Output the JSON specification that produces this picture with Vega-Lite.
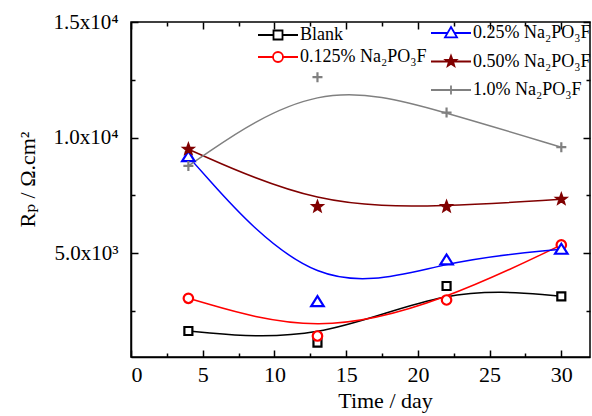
{
  "$schema": "https://vega.github.io/schema/vega-lite/v6.json",
  "width": 459,
  "height": 335,
  "autosize": {"type": "none"},
  "padding": {"left": 131, "top": 22, "right": 2, "bottom": 59},
  "background": "white",
  "config": {
    "view": {"stroke": "black", "strokeWidth": 1.5},
    "font": "Liberation Serif, DejaVu Serif, serif",
    "axis": {
      "grid": false,
      "domainColor": "black",
      "domainWidth": 1.5,
      "tickColor": "black",
      "tickWidth": 1.5,
      "labelColor": "black",
      "titleColor": "black",
      "labelFont": "Liberation Serif, DejaVu Serif, serif",
      "titleFont": "Liberation Serif, DejaVu Serif, serif",
      "titleFontWeight": "normal",
      "labelFontSize": 21,
      "titleFontSize": 22
    },
    "legend": {
      "labelFont": "Liberation Serif, DejaVu Serif, serif",
      "labelFontSize": 18,
      "labelColor": "black",
      "labelLimit": 300,
      "padding": 0,
      "offset": 0,
      "clipHeight": 18
    }
  },
  "data": {
    "values": [
      {"series": "Blank", "day": 4, "rp": 1625},
      {"series": "Blank", "day": 13, "rp": 1119},
      {"series": "Blank", "day": 22, "rp": 3574},
      {"series": "Blank", "day": 30, "rp": 3128},
      {"series": "0.125% Na₂PO₃F", "day": 4, "rp": 3041},
      {"series": "0.125% Na₂PO₃F", "day": 13, "rp": 1409},
      {"series": "0.125% Na₂PO₃F", "day": 22, "rp": 2968},
      {"series": "0.125% Na₂PO₃F", "day": 30, "rp": 5350},
      {"series": "0.25% Na₂PO₃F", "day": 4, "rp": 9173},
      {"series": "0.25% Na₂PO₃F", "day": 13, "rp": 2894},
      {"series": "0.25% Na₂PO₃F", "day": 22, "rp": 4700},
      {"series": "0.25% Na₂PO₃F", "day": 30, "rp": 5163},
      {"series": "0.50% Na₂PO₃F", "day": 4, "rp": 9493},
      {"series": "0.50% Na₂PO₃F", "day": 13, "rp": 7008},
      {"series": "0.50% Na₂PO₃F", "day": 22, "rp": 7008},
      {"series": "0.50% Na₂PO₃F", "day": 30, "rp": 7328},
      {"series": "1.0% Na₂PO₃F", "day": 4, "rp": 8770},
      {"series": "1.0% Na₂PO₃F", "day": 13, "rp": 12611},
      {"series": "1.0% Na₂PO₃F", "day": 22, "rp": 11078},
      {"series": "1.0% Na₂PO₃F", "day": 30, "rp": 9580}
    ]
  },
  "layer": [
    {
      "mark": {"type": "line", "interpolate": "basis", "strokeWidth": 1.5},
      "transform": [{"filter": {"field": "series", "oneOf": ["Blank", "0.125% Na₂PO₃F"]}}],
      "encoding": {
        "x": {
          "field": "day", "type": "quantitative",
          "scale": {"domain": [0, 32], "nice": false, "zero": false},
          "axis": {
            "orient": "bottom",
            "values": [0, 2.5, 5, 7.5, 10, 12.5, 15, 17.5, 20, 22.5, 25, 27.5, 30],
            "labelExpr": "datum.value % 5 == 0 ? datum.label : ''",
            "tickSize": {"condition": {"test": "datum.value % 5 == 0", "value": -7}, "value": -4},
            "labelPadding": 14,
            "labelFontSize": 22,
            "title": "Time / day",
            "titleX": 254,
            "titleY": 33
          }
        },
        "y": {
          "field": "rp", "type": "quantitative",
          "scale": {"domain": [500, 15000], "nice": false, "zero": false},
          "axis": {
            "orient": "left",
            "values": [2500, 5000, 7500, 10000, 12500, 15000],
            "labelExpr": "datum.value == 5000 ? '5.0x10³' : datum.value == 10000 ? '1.0x10⁴' : datum.value == 15000 ? '1.5x10⁴' : ''",
            "tickSize": {"condition": {"test": "datum.value % 5000 == 0", "value": -7}, "value": -4},
            "labelPadding": 20,
            "title": "Rₚ / Ω.cm²",
            "titleX": -104,
            "titleY": 157,
            "titleBaseline": "middle"
          }
        },
        "color": {
          "field": "series", "type": "nominal",
          "scale": {"domain": ["Blank", "0.125% Na₂PO₃F"], "range": ["#000000", "#ff0000"]},
          "legend": null
        }
      }
    },
    {
      "mark": {"type": "line", "interpolate": "basis", "strokeWidth": 1.5},
      "transform": [{"filter": {"field": "series", "oneOf": ["0.25% Na₂PO₃F", "0.50% Na₂PO₃F", "1.0% Na₂PO₃F"]}}],
      "encoding": {
        "x": {
          "field": "day", "type": "quantitative",
          "scale": {"domain": [0, 32], "nice": false, "zero": false},
          "axis": {
            "orient": "top",
            "values": [0, 2.5, 5, 7.5, 10, 12.5, 15, 17.5, 20, 22.5, 25, 27.5, 30],
            "labels": false,
            "domain": false,
            "tickSize": {"condition": {"test": "datum.value % 5 == 0", "value": -7}, "value": -4},
            "title": null
          }
        },
        "y": {
          "field": "rp", "type": "quantitative",
          "scale": {"domain": [500, 15000], "nice": false, "zero": false},
          "axis": {
            "orient": "right",
            "values": [2500, 5000, 7500, 10000, 12500, 15000],
            "labels": false,
            "domain": false,
            "tickSize": {"condition": {"test": "datum.value % 5000 == 0", "value": -7}, "value": -4},
            "title": null
          }
        },
        "color": {
          "field": "series", "type": "nominal",
          "scale": {"domain": ["0.25% Na₂PO₃F", "0.50% Na₂PO₃F", "1.0% Na₂PO₃F"], "range": ["#0000ff", "#800000", "#808080"]},
          "legend": null
        }
      }
    },
    {
      "mark": {"type": "point", "strokeWidth": 2.2, "opacity": 1, "size": 100},
      "transform": [{"filter": {"field": "series", "oneOf": ["Blank", "0.125% Na₂PO₃F"]}}],
      "encoding": {
        "x": {"field": "day", "type": "quantitative", "scale": {"domain": [0, 32], "nice": false, "zero": false}, "axis": null},
        "y": {"field": "rp", "type": "quantitative", "scale": {"domain": [500, 15000], "nice": false, "zero": false}, "axis": null},
        "shape": {
          "field": "series", "type": "nominal",
          "scale": {
            "domain": ["Blank", "0.125% Na₂PO₃F"],
            "range": [
              "M-0.8,-0.8H0.8V0.8H-0.8Z",
              "M0.95,0A0.95,0.95,0,1,1,-0.95,0A0.95,0.95,0,1,1,0.95,0Z"
            ]
          },
          "legend": null
        },
        "stroke": {
          "field": "series", "type": "nominal",
          "scale": {"domain": ["Blank", "0.125% Na₂PO₃F"], "range": ["#000000", "#ff0000"]},
          "legend": null
        },
        "fill": {
          "field": "series", "type": "nominal",
          "scale": {"domain": ["Blank", "0.125% Na₂PO₃F"], "range": ["#ffffff", "#ffffff"]},
          "legend": null
        }
      }
    },
    {
      "mark": {"type": "point", "strokeWidth": 2.2, "opacity": 1, "size": 100},
      "transform": [{"filter": {"field": "series", "oneOf": ["0.25% Na₂PO₃F", "0.50% Na₂PO₃F", "1.0% Na₂PO₃F"]}}],
      "encoding": {
        "x": {"field": "day", "type": "quantitative", "scale": {"domain": [0, 32], "nice": false, "zero": false}, "axis": null},
        "y": {"field": "rp", "type": "quantitative", "scale": {"domain": [500, 15000], "nice": false, "zero": false}, "axis": null},
        "shape": {
          "field": "series", "type": "nominal",
          "scale": {
            "domain": ["0.25% Na₂PO₃F", "0.50% Na₂PO₃F", "1.0% Na₂PO₃F"],
            "range": [
              "M0,-1.1L1.25,0.9H-1.25Z",
              "M0,-1L0.245,-0.338L0.951,-0.309L0.397,0.129L0.588,0.809L0,0.417L-0.588,0.809L-0.397,0.129L-0.951,-0.309L-0.245,-0.338Z",
              "M-1,0H1M0,-1V1"
            ]
          },
          "legend": null
        },
        "stroke": {
          "field": "series", "type": "nominal",
          "scale": {"domain": ["0.25% Na₂PO₃F", "0.50% Na₂PO₃F", "1.0% Na₂PO₃F"], "range": ["#0000ff", "#800000", "#808080"]},
          "legend": null
        },
        "fill": {
          "field": "series", "type": "nominal",
          "scale": {"domain": ["0.25% Na₂PO₃F", "0.50% Na₂PO₃F", "1.0% Na₂PO₃F"], "range": ["#ffffff", "#800000", "#ffffff"]},
          "legend": null
        }
      }
    },
    {
      "mark": {"type": "point", "strokeWidth": 1.8, "opacity": 0, "size": 1600},
      "transform": [{"filter": {"field": "series", "oneOf": ["Blank", "0.125% Na₂PO₃F"]}}],
      "encoding": {
        "x": {"field": "day", "type": "quantitative", "scale": {"domain": [0, 32], "nice": false, "zero": false}, "axis": null},
        "y": {"field": "rp", "type": "quantitative", "scale": {"domain": [500, 15000], "nice": false, "zero": false}, "axis": null},
        "shape": {
          "field": "series", "type": "nominal",
          "scale": {
            "domain": ["Blank", "0.125% Na₂PO₃F"],
            "range": [
              "M-1,0H-0.225M0.225,0H1M-0.225,-0.225H0.225V0.225H-0.225Z",
              "M-1,0H-0.25M0.25,0H1M0.25,0A0.25,0.25,0,1,1,-0.25,0A0.25,0.25,0,1,1,0.25,0Z"
            ]
          },
          "legend": {"title": null, "orient": "none", "legendX": 126, "legendY": 4, "symbolSize": 1600, "symbolStrokeWidth": 1.8, "symbolOpacity": 1, "labelOffset": 1, "rowPadding": 4, "clipHeight": 18}
        },
        "stroke": {
          "field": "series", "type": "nominal",
          "scale": {"domain": ["Blank", "0.125% Na₂PO₃F"], "range": ["#000000", "#ff0000"]},
          "legend": {"title": null, "orient": "none", "legendX": 126, "legendY": 4, "symbolSize": 1600, "symbolStrokeWidth": 1.8, "symbolOpacity": 1, "labelOffset": 1, "rowPadding": 4, "clipHeight": 18}
        },
        "fill": {
          "field": "series", "type": "nominal",
          "scale": {"domain": ["Blank", "0.125% Na₂PO₃F"], "range": ["#ffffff", "#ffffff"]},
          "legend": {"title": null, "orient": "none", "legendX": 126, "legendY": 4, "symbolSize": 1600, "symbolStrokeWidth": 1.8, "symbolOpacity": 1, "labelOffset": 1, "rowPadding": 4, "clipHeight": 18}
        }
      }
    },
    {
      "mark": {"type": "point", "strokeWidth": 1.8, "opacity": 0, "size": 1600},
      "transform": [{"filter": {"field": "series", "oneOf": ["0.25% Na₂PO₃F", "0.50% Na₂PO₃F", "1.0% Na₂PO₃F"]}}],
      "encoding": {
        "x": {"field": "day", "type": "quantitative", "scale": {"domain": [0, 32], "nice": false, "zero": false}, "axis": null},
        "y": {"field": "rp", "type": "quantitative", "scale": {"domain": [500, 15000], "nice": false, "zero": false}, "axis": null},
        "shape": {
          "field": "series", "type": "nominal",
          "scale": {
            "domain": ["0.25% Na₂PO₃F", "0.50% Na₂PO₃F", "1.0% Na₂PO₃F"],
            "range": [
              "M-1,0H-0.173M0.173,0H1M0,-0.3L0.3,0.22H-0.3Z",
              "M-1,0H1M0,-0.28L0.069,-0.095L0.266,-0.087L0.112,0.036L0.165,0.227L0,0.118L-0.165,0.227L-0.112,0.036L-0.266,-0.087L-0.069,-0.095Z",
              "M-1,0H1M0,-0.22V0.22"
            ]
          },
          "legend": {"title": null, "orient": "none", "legendX": 299, "legendY": 2, "symbolSize": 1600, "symbolStrokeWidth": 1.8, "symbolOpacity": 1, "labelOffset": 1, "rowPadding": 10.5, "clipHeight": 18}
        },
        "stroke": {
          "field": "series", "type": "nominal",
          "scale": {"domain": ["0.25% Na₂PO₃F", "0.50% Na₂PO₃F", "1.0% Na₂PO₃F"], "range": ["#0000ff", "#800000", "#808080"]},
          "legend": {"title": null, "orient": "none", "legendX": 299, "legendY": 2, "symbolSize": 1600, "symbolStrokeWidth": 1.8, "symbolOpacity": 1, "labelOffset": 1, "rowPadding": 10.5, "clipHeight": 18}
        },
        "fill": {
          "field": "series", "type": "nominal",
          "scale": {"domain": ["0.25% Na₂PO₃F", "0.50% Na₂PO₃F", "1.0% Na₂PO₃F"], "range": ["#ffffff", "#800000", "#ffffff"]},
          "legend": {"title": null, "orient": "none", "legendX": 299, "legendY": 2, "symbolSize": 1600, "symbolStrokeWidth": 1.8, "symbolOpacity": 1, "labelOffset": 1, "rowPadding": 10.5, "clipHeight": 18}
        }
      }
    }
  ],
  "resolve": {
    "scale": {"color": "independent", "stroke": "independent", "fill": "independent", "shape": "independent"},
    "axis": {"x": "independent", "y": "independent"}
  }
}
